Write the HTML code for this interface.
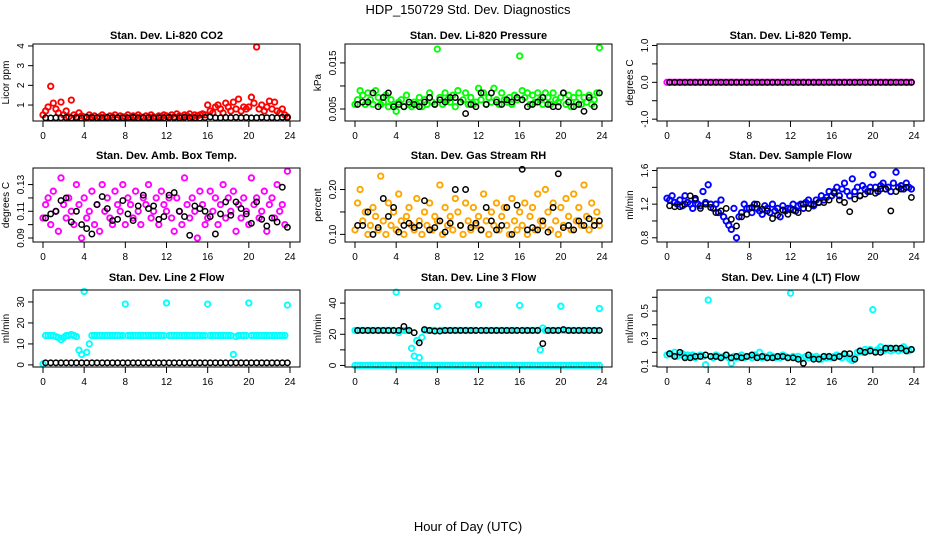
<!DOCTYPE html>
<html><head><meta charset="utf-8">
<style>
html,body{margin:0;padding:0;background:#fff;}
svg{display:block;font-family:"Liberation Sans",sans-serif;}
</style></head>
<body>
<svg id="chart" width="936" height="540" viewBox="0 0 936 540" xmlns="http://www.w3.org/2000/svg">
<rect x="0" y="0" width="936" height="540" fill="#fff"/>
<text x="468" y="14" text-anchor="middle" font-size="13">HDP_150729  Std. Dev. Diagnostics</text>
<text x="468" y="531" text-anchor="middle" font-size="13">Hour of Day (UTC)</text>
</svg>
<script>
// ---- data ----
const xTicks = [0,4,8,12,16,20,24];
const co2Red = [0.5,0.7,0.9,1.95,1.1,0.8,0.6,1.15,0.5,0.7,0.4,1.25,0.5,0.4,0.6,0.45,
0.4,0.35,0.5,0.4,0.45,0.35,0.4,0.5,0.4,0.35,0.45,0.4,0.5,0.35,0.45,0.4,
0.4,0.5,0.35,0.45,0.4,0.5,0.4,0.35,0.45,0.4,0.5,0.4,0.35,0.45,0.4,0.5,
0.45,0.4,0.5,0.4,0.55,0.45,0.4,0.5,0.45,0.55,0.4,0.5,0.45,0.5,0.55,0.5,
1.0,0.7,0.6,0.9,1.0,0.8,0.6,1.1,0.9,0.7,1.15,0.8,1.3,0.7,0.9,0.8,
0.9,1.4,1.1,3.95,0.8,1.0,0.7,0.9,1.2,0.8,1.15,0.7,0.6,0.8,0.5,0.4];
const co2Black = [0.35,0.34,0.36,0.35,0.37,0.34,0.35,0.33,0.38,0.36,0.35,0.34,0.37,0.35,0.36,0.34,
0.35,0.37,0.34,0.36,0.35,0.34,0.36,0.35,0.37,0.36,0.35,0.38,0.36,0.35,0.34,0.37,
0.4,0.36,0.35,0.37,0.36,0.38,0.36,0.37,0.35,0.36,0.38,0.36,0.37,0.35,0.38,0.36];
const presGreen = [.006,.007,.009,.008,.006,.0085,.007,.006,.009,.0075,.006,.0065,.008,.0055,.007,.006,
.0045,.0065,.007,.0055,.008,.006,.0055,.0065,.006,.0075,.0055,.007,.006,.0085,.0065,.006,
.018,.0075,.006,.0085,.007,.0065,.008,.0055,.009,.0065,.007,.0085,.006,.0075,.006,.0065,
.0095,.007,.0085,.006,.0075,.0065,.0095,.007,.006,.0085,.007,.0065,.0075,.006,.008,.007,
.0165,.009,.0075,.0085,.006,.008,.0065,.0085,.007,.006,.0085,.0075,.006,.0085,.007,.0065,
.0075,.0085,.006,.008,.0055,.0075,.0065,.0085,.006,.0075,.0065,.008,.006,.007,.0085,.0183];
const presBlack = [.006,.0065,.0065,.0085,.0055,.0075,.0085,.0055,.006,.0055,.0065,.006,.0055,.0065,.0075,.006,
.007,.0065,.0075,.0075,.0065,.004,.006,.0055,.0085,.006,.0085,.0065,.006,.007,.0065,.0075,
.007,.0055,.006,.0065,.0075,.006,.0055,.0055,.0085,.0065,.0055,.006,.0045,.0075,.0055,.0085];
const tempMagenta = [0,0,0,0,0,0,0,0,0,0,0,0,0,0,0,0,0,0,0,0,0,0,0,0,0,0,0,0,0,0,0,0,
0,0,0,0,0,0,0,0,0,0,0,0,0,0,0,0,0,0,0,0,0,0,0,0,0,0,0,0,0,0,0,0,
0,0,0,0,0,0,0,0,0,0,0,0,0,0,0,0,0,0,0,0,0,0,0,0,0,0,0,0,0,0,0,0];
const tempBlack = [0,0,0,0,0,0,0,0,0,0,0,0,0,0,0,0,0,0,0,0,0,0,0,0,
0,0,0,0,0,0,0,0,0,0,0,0,0,0,0,0,0,0,0,0,0,0,0,0];
const boxMagenta = [.105,.115,.12,.1,.125,.11,.095,.135,.115,.105,.12,.11,.1,.13,.115,.09,
.12,.105,.11,.125,.1,.115,.095,.13,.11,.12,.105,.1,.125,.115,.11,.13,
.1,.12,.115,.105,.125,.11,.1,.12,.115,.13,.105,.11,.12,.1,.125,.115,
.11,.12,.105,.095,.12,.11,.1,.135,.115,.105,.12,.11,.09,.125,.115,.1,
.105,.125,.11,.12,.1,.115,.13,.105,.12,.11,.125,.095,.115,.105,.12,.11,
.1,.135,.115,.12,.105,.11,.125,.095,.115,.12,.105,.13,.11,.115,.1,.14];
const boxBlack = [.105,.108,.11,.118,.12,.102,.11,.1,.097,.093,.115,.121,.112,.103,.104,.118,
.108,.103,.114,.122,.112,.114,.104,.106,.122,.124,.11,.106,.092,.114,.112,.11,
.106,.093,.108,.117,.107,.117,.112,.108,.101,.117,.104,.099,.105,.102,.128,.098];
const rhOrange = [.11,.17,.2,.13,.15,.1,.12,.16,.14,.11,.23,.13,.1,.17,.12,.15,
.11,.19,.13,.1,.14,.16,.12,.11,.18,.13,.1,.15,.12,.17,.11,.14,
.13,.21,.1,.16,.12,.14,.11,.18,.15,.12,.1,.17,.13,.11,.16,.12,
.14,.11,.19,.13,.1,.15,.12,.17,.11,.14,.16,.12,.1,.18,.13,.11,
.15,.12,.17,.1,.14,.16,.11,.19,.13,.12,.2,.15,.11,.17,.13,.1,
.16,.12,.18,.14,.11,.19,.13,.16,.12,.21,.14,.11,.17,.13,.15,.12];
const rhBlack = [.12,.12,.15,.1,.115,.18,.14,.16,.105,.12,.125,.115,.12,.175,.11,.115,
.13,.105,.125,.2,.12,.2,.115,.125,.11,.16,.13,.11,.12,.16,.1,.165,
.245,.11,.115,.11,.13,.105,.16,.235,.115,.12,.11,.13,.12,.135,.12,.13];
const flowBlue = [1.27,1.25,1.3,1.22,1.2,1.25,1.18,1.3,1.22,1.2,1.15,1.25,1.2,1.18,1.35,1.22,
1.43,1.2,1.15,1.2,1.1,1.25,1.05,1.0,0.95,0.9,1.15,0.8,1.05,1.1,1.2,1.15,
1.15,1.1,1.2,1.15,1.12,1.08,1.18,1.15,1.1,1.2,1.12,1.15,1.05,1.18,1.12,1.15,
1.15,1.2,1.12,1.18,1.2,1.15,1.22,1.25,1.2,1.18,1.25,1.22,1.3,1.25,1.28,1.35,
1.3,1.35,1.4,1.3,1.38,1.45,1.35,1.3,1.5,1.35,1.4,1.3,1.42,1.38,1.35,1.4,
1.55,1.4,1.35,1.42,1.45,1.38,1.4,1.35,1.45,1.58,1.4,1.42,1.38,1.45,1.4,1.38];
const flowBlack = [1.18,1.17,1.17,1.2,1.3,1.27,1.15,1.2,1.16,1.1,1.12,1.15,1.02,0.94,1.05,1.08,
1.16,1.2,1.14,1.12,1.03,1.07,1.13,1.08,1.13,1.1,1.2,1.15,1.2,1.22,1.22,1.25,
1.33,1.25,1.22,1.11,1.26,1.3,1.32,1.35,1.33,1.38,1.38,1.12,1.35,1.38,1.4,1.28];
const line2Cyan = [0.5,14,14,14,14,13.5,13,12,13,14,14,14.5,14,13.5,7,5,35,6,10,14,14,14,14,14,
14,14,14,14,14,14,14,14,29,14,14,14,14,14,14,14,14,14,14,14,14,14,14,14,
29.5,14,14,14,14,14,14,14,14,14,14,14,14,14,14,14,29,14,14,14,14,14,14,14,
14,14,5,13.5,14,14,14,14,29.5,14,14,14,14,14,14,14,14,14,14,14,14,14,14,28.5];
const line2Black = [1,1,1,1,1,1,1,1,1,1,1,1,1,1,1,1,1,1,1,1,1,1,1,1,
1,1,1,1,1,1,1,1,1,1,1,1,1,1,1,1,1,1,1,1,1,1,1,1];
const line3CyanTop = [22.5,22.5,22.5,22.5,22.5,22.5,22.5,22.5,22.5,22.5,22.5,22.5,22.5,22.5,22.5,22.5,
47,21,22.5,22.5,22.5,22.5,11,6,16,5,18,22.5,22.5,22.5,22.5,22.5,
38,22.5,22.5,22.5,22.5,22.5,22.5,22.5,22.5,22.5,22.5,22.5,22.5,22.5,22.5,22.5,
39,22.5,22.5,22.5,22.5,22.5,22.5,22.5,22.5,22.5,22.5,22.5,22.5,22.5,22.5,22.5,
38.5,22.5,22.5,22.5,22.5,22.5,22.5,22.5,10,24,22.5,22.5,22.5,22.5,22.5,22.5,
38,22.5,22.5,22.5,22.5,22.5,22.5,22.5,22.5,22.5,22.5,22.5,22.5,22.5,22.5,36.5];
const line3CyanLow = [0,0,0,0,0,0,0,0,0,0,0,0,0,0,0,0,0,0,0,0,0,0,0,0,0,0,0,0,0,0,0,0,
0,0,0,0,0,0,0,0,0,0,0,0,0,0,0,0,0,0,0,0,0,0,0,0,0,0,0,0,0,0,0,0,
0,0,0,0,0,0,0,0,0,0,0,0,0,0,0,0,0,0,0,0,0,0,0,0,0,0,0,0,0,0,0,0];
const line3Black = [22.5,22.5,22.5,22.5,22.5,22.5,22.5,22.5,22.5,25,22.5,21,14.5,23,22.5,22,
22,22.5,22.5,22.5,22.5,22.5,22.5,22.5,22.5,22.5,22.5,22.5,22.5,22.5,22.5,22.5,
22.5,22.5,22.5,22.5,14,22.5,22.5,22.5,23,22.5,22.5,22.5,22.5,22.5,22.5,22.5];
const line4Cyan = [0.18,0.19,0.18,0.2,0.17,0.18,0.19,0.17,0.18,0.17,0.18,0.16,0.17,0.18,0.17,0.11,
0.58,0.17,0.16,0.18,0.17,0.16,0.17,0.18,0.16,0.12,0.17,0.16,0.17,0.18,0.16,0.17,
0.17,0.16,0.18,0.17,0.2,0.16,0.17,0.16,0.18,0.17,0.16,0.17,0.16,0.18,0.17,0.16,
0.63,0.17,0.16,0.17,0.15,0.16,0.17,0.16,0.17,0.16,0.17,0.16,0.15,0.17,0.16,0.17,
0.16,0.17,0.18,0.17,0.16,0.18,0.17,0.15,0.14,0.16,0.2,0.21,0.2,0.22,0.21,0.22,
0.51,0.21,0.22,0.24,0.21,0.22,0.23,0.21,0.22,0.23,0.21,0.22,0.24,0.22,0.21,0.22];
const line4Black = [0.19,0.17,0.2,0.16,0.16,0.17,0.17,0.18,0.17,0.17,0.16,0.18,0.16,0.17,0.16,0.17,
0.18,0.16,0.17,0.16,0.16,0.17,0.17,0.16,0.16,0.15,0.12,0.18,0.15,0.15,0.17,0.17,
0.16,0.17,0.19,0.19,0.15,0.21,0.2,0.21,0.2,0.2,0.23,0.23,0.23,0.23,0.21,0.22];

// ---- layout ----
const colL = [33,345,657], colW = 267;
const rowT = [44,168,290], rowB = [121,242,367];
const titleY = [39,159,281];
const NS = "http://www.w3.org/2000/svg";
const svg = document.getElementById('chart');
function mk(tag, attrs, parent){const e=document.createElementNS(NS,tag);for(const k in attrs)e.setAttribute(k,attrs[k]);(parent||svg).appendChild(e);return e;}

const panels = [
 {name:'co2',title:'Stan. Dev. Li-820 CO2',yt:'Licor ppm',c:0,r:0,min:0.19,max:4.1,ticks:[1,2,3,4],lab:['1','2','3','4'],series:[[co2Red,'#ff0000'],[co2Black,'#000']]},
 {name:'pressure',title:'Stan. Dev. Li-820 Pressure',yt:'kPa',c:1,r:0,min:0.0024,max:0.0191,ticks:[0.005,0.010,0.015],lab:['0.005','','0.015'],series:[[presGreen,'#00ff00'],[presBlack,'#000']]},
 {name:'li820-temp',title:'Stan. Dev. Li-820 Temp.',yt:'degrees C',c:2,r:0,min:-1.05,max:1.04,ticks:[-1,-0.5,0,0.5,1],lab:['-1.0','','0.0','','1.0'],series:[[tempMagenta,'#ff00ff'],[tempBlack,'#000']]},
 {name:'box-temp',title:'Stan. Dev. Amb. Box Temp.',yt:'degrees C',c:0,r:1,min:0.087,max:0.1424,ticks:[0.09,0.10,0.11,0.12,0.13],lab:['0.09','','0.11','','0.13'],series:[[boxMagenta,'#ff00ff'],[boxBlack,'#000']]},
 {name:'gas-rh',title:'Stan. Dev. Gas Stream RH',yt:'percent',c:1,r:1,min:0.083,max:0.248,ticks:[0.10,0.15,0.20],lab:['0.10','','0.20'],series:[[rhOrange,'#ffa500'],[rhBlack,'#000']]},
 {name:'sample-flow',title:'Stan. Dev. Sample Flow',yt:'ml/min',c:2,r:1,min:0.75,max:1.63,ticks:[0.8,1.0,1.2,1.4,1.6],lab:['0.8','','1.2','','1.6'],series:[[flowBlue,'#0000ff'],[flowBlack,'#000']]},
 {name:'line2-flow',title:'Stan. Dev. Line 2 Flow',yt:'ml/min',c:0,r:2,min:-1,max:35.7,ticks:[0,10,20,30],lab:['0','10','20','30'],series:[[line2Cyan,'#00ffff'],[line2Black,'#000']]},
 {name:'line3-flow',title:'Stan. Dev. Line 3 Flow',yt:'ml/min',c:1,r:2,min:-1,max:48.4,ticks:[0,10,20,30,40],lab:['0','','20','','40'],series:[[line3CyanLow,'#00ffff'],[line3CyanTop,'#00ffff'],[line3Black,'#000']]},
 {name:'line4-flow',title:'Stan. Dev. Line 4 (LT) Flow',yt:'ml/min',c:2,r:2,min:0.093,max:0.653,ticks:[0.1,0.2,0.3,0.4,0.5,0.6],lab:['0.1','','0.3','','0.5',''],series:[[line4Cyan,'#00ffff'],[line4Black,'#000']]}
];

panels.forEach(p=>{
  const L=colL[p.c], R=L+colW, T=rowT[p.r], B=rowB[p.r];
  const xs = t => L+10 + (t/24)*(colW-20);
  const ys = v => B - (v-p.min)/(p.max-p.min)*(B-T);
  const g = mk('g',{});
  
  
  const tt = mk('text',{x:(L+R)/2,y:titleY[p.r],'text-anchor':'middle','font-size':'11','font-weight':'bold'},g);
  tt.textContent=p.title;
  
  
  const pts = mk('g',{fill:'none'},g);
  
  
  p.series.forEach(([vals,col])=>{
    const step = 24/vals.length;
    const off = vals.length<90 ? step/2 : 0;
    const sw = col==='#000' ? 1.5 : 1.9;
    vals.forEach((v,i)=>{
      const c = mk('circle',{cx:xs(i*step+off).toFixed(1),cy:ys(v).toFixed(1),r:2.7,stroke:col,'stroke-width':sw},pts);
      
      
    });
  });
  const box = mk('rect',{x:L,y:T,width:colW,height:B-T,fill:'none',stroke:'#000','stroke-width':'1'},g);
  
  
  const xa = mk('g',{},g);
  
  
  mk('line',{x1:xs(0),x2:xs(24),y1:B,y2:B,stroke:'#000'},xa);
  xTicks.forEach(t=>{
    mk('line',{x1:xs(t),x2:xs(t),y1:B,y2:B+6,stroke:'#000'},xa);
    const tx = mk('text',{x:xs(t),y:B+18,'text-anchor':'middle','font-size':'10'},xa);
    tx.textContent = t;
    
    
  });
  const ya = mk('g',{},g);
  
  
  p.ticks.forEach((v,i)=>{
    const y = ys(v);
    mk('line',{x1:L-5,x2:L,y1:y,y2:y,stroke:'#000'},ya);
    if(p.lab[i]){
      const tx = mk('text',{x:L-9,y:y,'text-anchor':'middle','font-size':'10',transform:`rotate(-90 ${L-9} ${y})`},ya);
      tx.textContent = p.lab[i];
      
      
    }
  });
  const yt = mk('text',{x:L-24,y:(T+B)/2,'text-anchor':'middle','font-size':'10',transform:`rotate(-90 ${L-24} ${(T+B)/2})`},g);
  yt.textContent = p.yt;
  
  
});
</script>
</body></html>
